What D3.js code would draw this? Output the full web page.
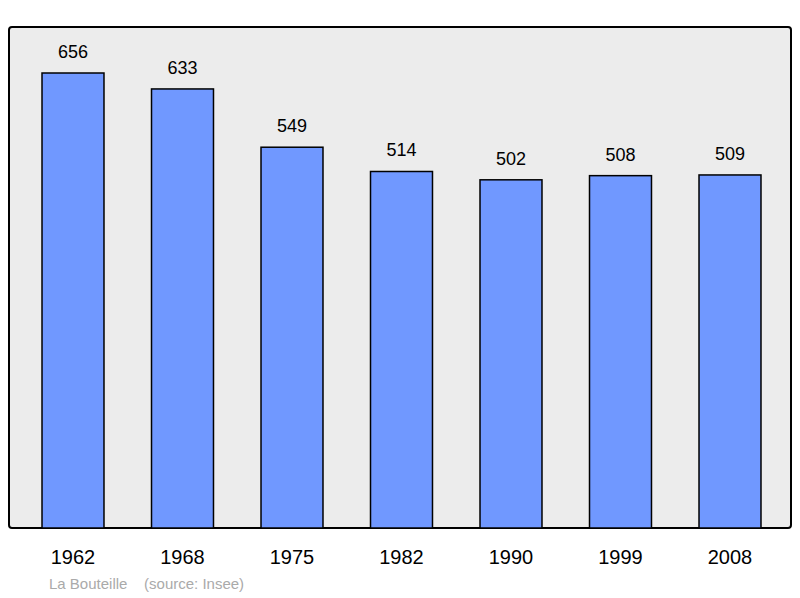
<!DOCTYPE html>
<html><head><meta charset="utf-8">
<script src="https://cdn.jsdelivr.net/npm/d3@7"></script>
<style>body{margin:0;background:#fff}</style></head>
<body><svg id="c" width="800" height="598"></svg>
<script>
const years = ["1962","1968","1975","1982","1990","1999","2008"];
const population = [656,633,549,514,502,508,509];

const svg = d3.select("#c");
const font = "Liberation Sans, Arial, sans-serif";
svg.append("rect").attr("x",9).attr("y",27).attr("width",782).attr("height",501)
  .attr("rx",3).attr("fill","#ececec").attr("stroke","#000").attr("stroke-width",2);

const x = d3.scaleBand().domain(years).range([18.25,784.75]).paddingInner(0.434).paddingOuter(0.217);
const y = d3.scaleLinear().domain([0,656]).range([528,73]);

svg.selectAll("rect.bar").data(population).enter().append("rect")
  .attr("class","bar")
  .attr("x",(d,i)=>x(years[i])).attr("width",x.bandwidth())
  .attr("y",d=>y(d)).attr("height",d=>y(0)-y(d))
  .attr("fill","#7098ff").attr("stroke","#000").attr("stroke-width",1.5);

svg.selectAll("text.val").data(population).enter().append("text")
  .attr("x",(d,i)=>x(years[i])+x.bandwidth()/2).attr("y",d=>y(d)-15)
  .attr("text-anchor","middle").attr("font-family",font).attr("font-size",18)
  .text(d=>d);

svg.selectAll("text.yr").data(years).enter().append("text")
  .attr("x",d=>x(d)+x.bandwidth()/2).attr("y",564)
  .attr("text-anchor","middle").attr("font-family",font).attr("font-size",20)
  .text(d=>d);

svg.append("text").attr("x",49).attr("y",589).attr("font-family",font).attr("font-size",15)
  .attr("fill","#aaa").attr("xml:space","preserve").style("white-space","pre")
  .text("La Bouteille    (source: Insee)");
</script></body></html>
